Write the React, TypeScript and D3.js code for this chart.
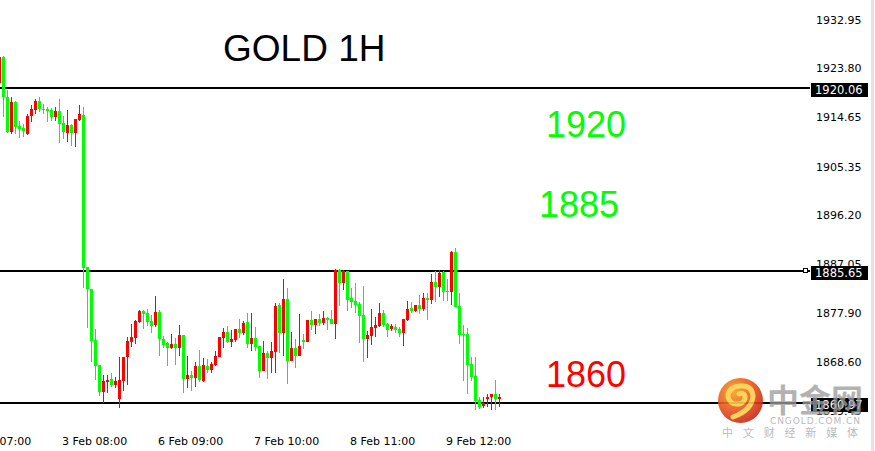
import React from "react";
import * as d3 from "d3";

// ---- data ----
const firstIndex = -1;
const opens = [1920.97,1925.97,1918.35,1911.89,1917.52,1912.96,1912.58,1911.46,1914.83,1915.96,1917.65,1916.15,1916.15,1915.96,1914.65,1915.77,1913.52,1911.70,1913.14,1911.70,1914.08,1915.02,1886.43,1882.36,1872.79,1868.09,1863.08,1864.85,1865.46,1864.34,1861.71,1865.15,1869.54,1872.47,1873.22,1876.22,1878.23,1877.80,1876.35,1875.60,1877.99,1872.92,1872.17,1871.23,1872.03,1871.34,1873.72,1865.46,1866.22,1865.71,1867.90,1865.15,1867.90,1867.15,1868.09,1869.65,1873.10,1874.34,1872.35,1872.79,1874.85,1874.04,1876.22,1872.03,1873.22,1871.66,1866.97,1870.40,1869.35,1870.59,1879.36,1874.04,1880.48,1868.84,1871.28,1869.78,1872.79,1872.41,1876.54,1875.60,1876.73,1876.03,1876.97,1876.73,1875.79,1885.93,1883.43,1885.74,1880.73,1880.11,1879.54,1877.48,1872.97,1873.59,1875.09,1875.41,1877.91,1875.79,1874.79,1875.28,1874.91,1874.16,1876.54,1878.74,1878.23,1879.36,1878.61,1880.73,1880.29,1883.62,1882.79,1885.61,1881.98,1881.85,1889.36,1879.17,1873.91,1873.91,1868.28,1866.03,1861.52,1860.45,1861.77,1862.14,1862.65,1861.77];
const highs = [1926.15,1926.15,1919.72,1918.46,1917.65,1913.95,1913.33,1915.21,1916.90,1918.03,1918.46,1917.09,1916.58,1916.28,1916.58,1918.03,1914.83,1915.96,1913.33,1914.27,1916.90,1916.58,1886.43,1882.36,1874.85,1868.09,1866.22,1866.22,1866.59,1865.90,1869.65,1869.65,1873.41,1875.79,1876.54,1878.42,1878.42,1878.61,1877.48,1881.05,1878.42,1873.59,1872.47,1873.91,1873.22,1875.60,1873.72,1869.78,1866.97,1868.71,1870.91,1869.35,1869.22,1868.71,1870.78,1873.29,1874.98,1875.47,1874.66,1874.85,1876.67,1876.35,1877.80,1877.91,1875.28,1871.66,1872.60,1870.78,1872.47,1879.79,1879.79,1884.24,1882.60,1874.34,1872.92,1877.67,1873.91,1876.54,1878.23,1876.67,1877.61,1878.23,1877.16,1878.42,1886.06,1886.06,1885.93,1885.74,1882.49,1883.54,1879.98,1882.98,1874.53,1878.61,1877.16,1879.79,1878.42,1875.92,1875.73,1875.79,1875.28,1876.73,1880.11,1879.86,1879.36,1881.23,1881.55,1881.55,1885.12,1885.74,1885.93,1885.74,1884.18,1889.49,1890.00,1881.55,1875.60,1874.98,1869.54,1869.54,1862.14,1862.14,1862.65,1862.65,1865.28,1862.65];
const lows = [1920.84,1914.70,1911.59,1911.46,1911.46,1910.76,1910.95,1911.27,1913.76,1915.21,1915.64,1915.21,1913.65,1913.90,1913.90,1909.82,1910.52,1910.01,1909.20,1909.07,1913.90,1882.49,1875.09,1868.71,1865.28,1862.27,1861.02,1862.89,1864.02,1863.83,1859.96,1863.27,1864.34,1871.42,1871.98,1875.92,1874.91,1875.47,1874.04,1875.28,1869.84,1871.23,1867.90,1871.10,1868.09,1869.78,1862.78,1863.72,1863.27,1864.02,1864.85,1864.85,1866.53,1866.65,1867.90,1869.65,1871.23,1872.17,1871.42,1872.47,1873.10,1873.72,1871.23,1870.78,1870.78,1865.71,1866.97,1865.46,1866.53,1866.53,1870.40,1869.78,1864.53,1868.84,1867.59,1869.78,1871.04,1872.41,1874.66,1873.91,1875.47,1875.60,1874.66,1875.79,1872.97,1879.22,1882.17,1878.23,1878.74,1877.91,1872.17,1868.71,1869.35,1871.85,1873.29,1875.17,1875.17,1873.29,1874.47,1874.16,1873.29,1871.66,1876.35,1877.91,1877.99,1877.67,1878.29,1876.54,1879.49,1879.98,1880.80,1880.16,1880.16,1879.36,1879.04,1872.03,1865.15,1862.65,1865.15,1859.65,1859.78,1859.96,1860.26,1859.65,1859.65,1860.15];
const closes = [1925.97,1918.35,1911.89,1917.52,1912.83,1912.34,1912.02,1914.83,1916.15,1917.65,1916.15,1915.96,1915.77,1914.65,1915.77,1913.39,1911.89,1913.14,1911.70,1914.27,1915.21,1886.36,1882.30,1872.65,1867.96,1863.08,1865.09,1865.28,1864.34,1865.09,1865.28,1869.65,1872.60,1873.41,1876.35,1878.23,1877.67,1876.22,1875.47,1877.99,1872.92,1871.85,1871.34,1872.03,1871.28,1873.72,1865.46,1866.22,1865.71,1867.90,1865.28,1868.09,1867.15,1868.28,1869.78,1873.29,1874.34,1872.47,1872.97,1874.85,1874.04,1876.03,1872.03,1873.22,1871.42,1866.97,1870.40,1869.35,1870.78,1879.22,1874.04,1880.48,1868.84,1871.28,1869.78,1871.66,1872.41,1876.54,1875.60,1876.67,1875.92,1876.86,1876.54,1875.79,1885.93,1883.43,1885.74,1880.29,1879.98,1879.36,1877.35,1872.97,1873.72,1875.17,1875.60,1877.91,1875.60,1874.66,1875.41,1874.66,1874.16,1876.73,1878.61,1878.23,1879.36,1878.61,1880.61,1880.29,1883.62,1882.79,1885.42,1881.85,1881.85,1889.36,1879.04,1873.72,1873.72,1868.09,1865.90,1861.33,1860.26,1860.90,1862.14,1862.65,1861.77,1862.14];

const priceTicks = [1932.95, 1923.80, 1914.65, 1905.35, 1896.20, 1887.05, 1877.90, 1868.60, 1859.45];
const timeLabels = ["2 Feb 07:00", "3 Feb 08:00", "6 Feb 09:00", "7 Feb 10:00", "8 Feb 11:00", "9 Feb 12:00"];
const timeLabelBars = [-11, 13, 37, 61, 85, 109];
const levels = [1920.06, 1885.65, 1860.97];
const levelNotes = ["1920", "1885", "1860"];
const levelNotePrices = [1910.89, 1895.93, 1864.01];
const levelNoteColors = ["#00ff00", "#00ff00", "#ff0000"];
const title = "GOLD 1H";

const W = 875;
const H = 451;

export default function App() {
  const y = d3.scaleLinear().domain([1859.45, 1932.95]).range([411, 19.5]);
  const x = d3.scaleLinear().domain([0, 124]).range([3.33, 499.33]);
  const UP = "#ff0000";
  const DOWN = "#00ff00";
  const tickFont = "'DejaVu Sans', Tahoma, sans-serif";

  const candles = opens.map((o, k) => ({
    i: k + firstIndex,
    o,
    h: highs[k],
    l: lows[k],
    c: closes[k],
  }));

  return (
    <svg
      width={W}
      height={H}
      style={{ position: "absolute", left: 0, top: 0, background: "#fff" }}
    >
      <defs>
        <radialGradient id="logoGrad" cx="35%" cy="30%" r="75%">
          <stop offset="0%" stopColor="#f7a21b" />
          <stop offset="55%" stopColor="#e8581f" />
          <stop offset="100%" stopColor="#c9261b" />
        </radialGradient>
      </defs>
      <rect x={0} y={0} width={W} height={H} fill="#fff" />
      {/* right window edge */}
      <rect x={871} y={0} width={3} height={H} fill="#e3e3e3" />

      {/* title */}
      <text
        x={223}
        y={60.5}
        fontFamily="'Liberation Sans', Arial, sans-serif"
        fontSize={37}
        fill="#000"
      >
        {title}
      </text>

      {/* price axis labels */}
      {priceTicks.map((t) => (
        <text
          key={t}
          x={816}
          y={y(t) + 4}
          fontFamily={tickFont}
          fontSize={11}
          fill="#000"
        >
          {t.toFixed(2)}
        </text>
      ))}

      {/* time axis labels */}
      {timeLabels.map((t, k) => (
        <text
          key={t}
          x={x(timeLabelBars[k]) + 6.7}
          y={445}
          fontFamily={tickFont}
          fontSize={11}
          fill="#000"
        >
          {t}
        </text>
      ))}

      {/* horizontal levels */}
      {levels.map((lv) => {
        const ly = Math.round(y(lv));
        return (
          <g key={lv}>
            <rect x={0} y={ly - 1} width={810} height={2} fill="#000" />
          </g>
        );
      })}

      {/* candles */}
      <g shapeRendering="crispEdges">
        {candles.map((d) => {
          const cx = Math.round(x(d.i));
          const col = d.c > d.o ? UP : DOWN;
          const top = y(Math.max(d.o, d.c));
          const bot = y(Math.min(d.o, d.c));
          return (
            <g key={d.i}>
              <line
                x1={cx + 0.5}
                x2={cx + 0.5}
                y1={y(d.h)}
                y2={y(d.l)}
                stroke={col}
                strokeWidth={1}
              />
              <rect
                x={cx - 1}
                y={top}
                width={3}
                height={Math.max(1, bot - top)}
                fill={col}
              />
            </g>
          );
        })}
      </g>

      {/* level price boxes */}
      {levels.map((lv) => {
        const ly = Math.round(y(lv));
        return (
          <g key={"b" + lv}>
            <rect x={811} y={ly - 5} width={57} height={14} fill="#000" />
            <text
              x={815}
              y={ly + 6}
              fontFamily={tickFont}
              fontSize={11.5}
              fill="#fff"
            >
              {lv.toFixed(2)}
            </text>
          </g>
        );
      })}
      {/* small square marker on the middle level */}
      <rect
        x={803.5}
        y={Math.round(y(levels[1])) - 2.5}
        width={4}
        height={4}
        fill="#fff"
        stroke="#000"
        strokeWidth={1}
      />

      {/* level notes */}
      {levelNotes.map((n, k) => (
        <text
          key={n}
          x={k === 1 ? 539 : 546}
          y={y(levelNotePrices[k])}
          fontFamily="'Liberation Sans', Arial, sans-serif"
          fontSize={36}
          fill={levelNoteColors[k]}
        >
          {n}
        </text>
      ))}

      {/* watermark logo */}
      <g opacity={0.9}>
        <circle cx={740.5} cy={400.5} r={22.5} fill="url(#logoGrad)" />
        <path
          d="M733 417 Q752 410 753 396 Q752 385 740 386 Q728 387 728 397 Q730 405 739 404 Q746 402 745 396 Q743 392 739 394"
          fill="none"
          stroke="#ffcf4a"
          strokeWidth={5}
          strokeLinecap="round"
        />
        <text
          x={767}
          y={412}
          fontFamily="'Noto Sans CJK SC', sans-serif"
          fontWeight={700}
          fontSize={32}
          fill="#9c9c9c"
          opacity={0.85}
        >
          中金网
        </text>
        <text
          x={770}
          y={424}
          fontFamily="'DejaVu Sans', sans-serif"
          fontSize={9}
          fill="#b4b4b4"
          textLength={90}
          lengthAdjust="spacing"
        >
          CNGOLD.COM.CN
        </text>
        <text
          x={722}
          y={437}
          fontFamily="'Noto Sans CJK SC', sans-serif"
          fontSize={11}
          fill="#b4b4b4"
          textLength={136}
          lengthAdjust="spacing"
        >
          中文财经新媒体
        </text>
      </g>
    </svg>
  );
}
